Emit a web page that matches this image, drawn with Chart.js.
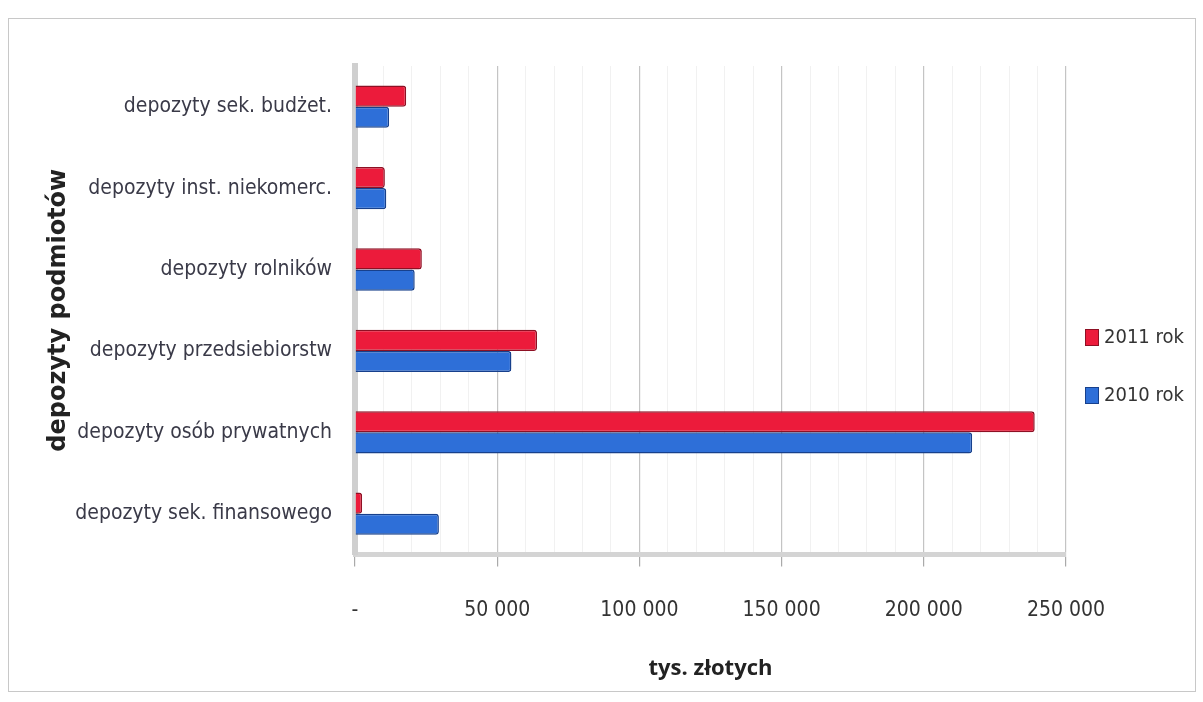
<!DOCTYPE html>
<html>
<head>
<meta charset="utf-8">
<script src="https://cdn.jsdelivr.net/npm/chart.js@4.4.0/dist/chart.umd.min.js"></script>
<style>
  html, body { margin: 0; padding: 0; background: #fff; }
  #frame { position: absolute; left: 8px; top: 18px; width: 1186px; height: 672px; border: 1px solid #c8c8c8; }
  #wrap { position: absolute; left: 0; top: 0; width: 1203px; height: 702px; }
  #legend { position: absolute; left: 1085px; top: 324px; font: 20px 'Liberation Sans Narrow', 'DejaVu Sans Condensed', sans-serif; color: #333; }
  #legend div { height: 58px; display: flex; align-items: flex-start; }
  #legend span.box { display: inline-block; width: 12px; height: 15px; margin: 5px 5px 0 0; border: 1px solid; }
</style>
</head>
<body>
<div id="frame"></div>
<div id="wrap"><canvas id="myChart"></canvas></div>
<div id="legend"></div>
<script>
const categories = [
    'depozyty sek. budżet.',
    'depozyty inst. niekomerc.',
    'depozyty rolników',
    'depozyty przedsiebiorstw',
    'depozyty osób prywatnych',
    'depozyty sek. finansowego'
];
const values2011 = [18000, 10500, 23500, 64000, 239000, 2500];
const values2010 = [12000, 11000, 21000, 55000, 217000, 29500];
const tickLabels = ['-', '50 000', '100 000', '150 000', '200 000', '250 000'];

const labelFont = { family: "'Liberation Sans Narrow', 'DejaVu Sans Condensed', sans-serif", size: 21 };

const ctx = document.getElementById('myChart');
const myChart = new Chart(ctx, {
    type: 'bar',
    data: {
        labels: categories,
        datasets: [{
            label: '2011 rok',
            data: values2011,
            backgroundColor: '#ec1b3b',
            borderColor: '#8e1024',
            borderWidth: 1.5,
            borderRadius: 3,
            borderSkipped: 'start'
        },
        {
            label: '2010 rok',
            data: values2010,
            backgroundColor: '#2e6fd8',
            borderColor: '#17408c',
            borderWidth: 1.5,
            borderRadius: 3,
            borderSkipped: 'start'
        }]
    },
    options: {
        indexAxis: 'y',
        responsive: true,
        maintainAspectRatio: false,
        animation: false,
        layout: { padding: { top: 66, left: 14, right: 137, bottom: 20 } },
        datasets: { bar: { categoryPercentage: 0.52, barPercentage: 1 } },
        plugins: {
            legend: { display: false },
            tooltip: { enabled: false }
        },
        scales: {
            x: {
                min: 0,
                max: 250000,
                afterBuildTicks: axis => {
                    const t = [];
                    for (let v = 0; v <= 250000; v += 10000) t.push({ value: v });
                    axis.ticks = t;
                },
                ticks: {
                    autoSkip: false,
                    maxRotation: 0,
                    padding: 32,
                    color: '#333',
                    font: labelFont,
                    callback: v => v % 50000 === 0 ? tickLabels[v / 50000] : ''
                },
                grid: {
                    color: c => c.tick && c.tick.value % 50000 === 0 ? '#c4c4c4' : '#f1f1f1',
                    lineWidth: c => c.tick && c.tick.value % 50000 === 0 ? 1.2 : 1,
                    tickLength: 12,
                    tickColor: c => c.tick && c.tick.value % 50000 === 0 ? '#aaa' : 'rgba(0,0,0,0)'
                },
                border: { color: '#d4d4d4', width: 5 },
                title: {
                    display: true,
                    text: 'tys. złotych',
                    color: '#222',
                    font: { family: "'Open Sans', sans-serif", size: 22, weight: 'bold' },
                    padding: { top: 0, bottom: 0 }
                }
            },
            y: {
                afterFit: axis => { axis.width = 341; },
                ticks: {
                    padding: 15,
                    color: '#3a3a48',
                    font: labelFont
                },
                grid: { display: false },
                border: { color: '#cfcfcf', width: 6 },
                title: {
                    display: true,
                    text: 'depozyty podmiotów',
                    color: '#222',
                    font: { family: "'DejaVu Sans', sans-serif", size: 24, weight: 'bold' },
                    padding: { top: 30, bottom: 0 }
                }
            }
        }
    }
});

// legend built from the datasets
const legendEl = document.getElementById('legend');
myChart.data.datasets.forEach(ds => {
    const row = document.createElement('div');
    row.innerHTML = '<span class="box" style="background:' + ds.backgroundColor +
        ';border-color:' + ds.borderColor + '"></span>' + ds.label;
    legendEl.appendChild(row);
});
</script>
</body>
</html>
